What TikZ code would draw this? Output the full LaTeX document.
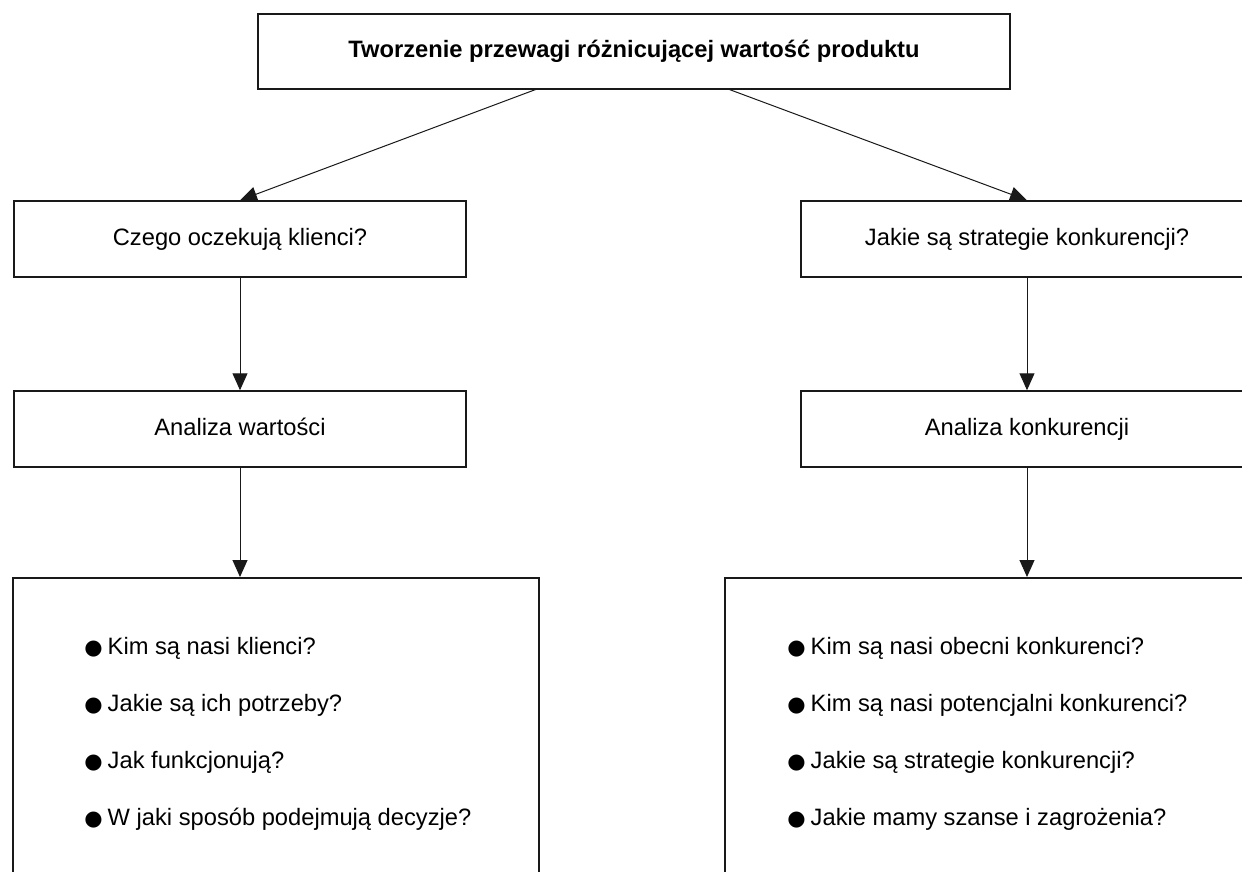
\documentclass[tikz,border=0pt]{standalone}
\usepackage{fontspec}
\setmainfont{Liberation Sans}
\newfontfamily\dotfont{DejaVu Sans}
\usepackage{tikz}
\usetikzlibrary{arrows.meta}
\usetikzlibrary{positioning}

\newcommand{\kropka}{{\dotfont\fontsize{10.5}{10}\selectfont ●}\hspace{2.5pt}}

\begin{document}
\begin{tikzpicture}[x=0.5pt,y=-0.5pt,
    >={Triangle[length=8.5pt,width=7.5pt]},
    box/.style={draw=black!90,line width=0.75pt,inner sep=0pt,
      minimum width=226pt,minimum height=38pt,text height=8.5pt,text depth=2.5pt,
      font=\fontsize{11.85}{14}\selectfont},
    listbox/.style={draw=black!90,line width=0.75pt,inner sep=0pt,
      minimum width=263pt,minimum height=200pt,anchor=north},
    items/.style={align=left,anchor=west,inner sep=0pt,
      font=\fontsize{11.85}{28.5}\selectfont},
    arr/.style={->,line width=0.5pt,black!90}]
    \clip (0,0) rectangle (1242,872);
    \fill[white] (0,0) rectangle (1242,872);
    % top
    \node[box,minimum width=376pt,minimum height=37.5pt,
      font=\fontsize{11.85}{14}\selectfont\bfseries] (top) at (634,51.5)
      {Tworzenie przewagi różnicującej wartość produktu};
    \coordinate (topl) at (537,89);
    \coordinate (topr) at (728,89);
    % left column
    \node[box] (klienci) at (240,239) {Czego oczekują klienci?};
    \node[box] (wartosci) at (240,429) {Analiza wartości};
    \node[listbox] (listl) at (276,577) {};
    \node[items] (pytl) at (84,734)
      {\kropka Kim są nasi klienci?\\ \kropka Jakie są ich potrzeby?\\
       \kropka Jak funkcjonują?\\ \kropka W jaki sposób podejmują decyzje?};
    % right column
    \node[box] (strategie) at (1027,239) {Jakie są strategie konkurencji?};
    \node[box] (konkur) at (1027,429) {Analiza konkurencji};
    \node[listbox] (listr) at (988,577) {};
    \node[items] (pytr) at (787,734)
      {\kropka Kim są nasi obecni konkurenci?\\ \kropka Kim są nasi potencjalni konkurenci?\\
       \kropka Jakie są strategie konkurencji?\\ \kropka Jakie mamy szanse i zagrożenia?};
    % arrows
    \draw[arr] (topl) -- (klienci.north);
    \draw[arr] (topr) -- (strategie.north);
    \draw[arr] (klienci) -- (wartosci);
    \draw[arr] (strategie) -- (konkur);
    \draw[arr] (wartosci.south) -- (wartosci.south |- listl.north);
    \draw[arr] (konkur.south) -- (konkur.south |- listr.north);
\end{tikzpicture}
\end{document}
